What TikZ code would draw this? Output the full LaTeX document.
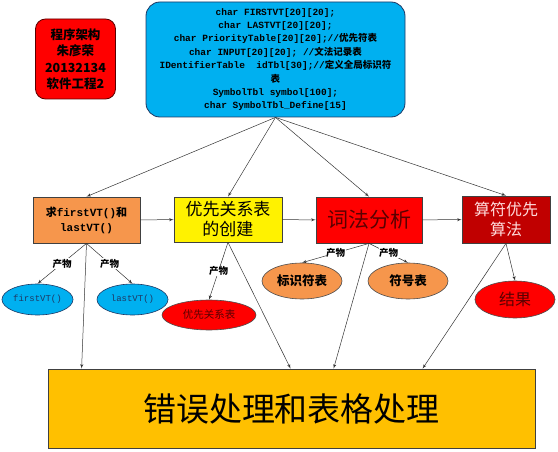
\documentclass[tikz,border=0pt]{standalone}
\usepackage{fontspec}
\setmonofont{Liberation Mono}
\newfontfamily\cjk{Noto Sans CJK SC}
\usetikzlibrary{arrows,shapes.geometric}
\usepackage{xcolor}
\definecolor{codeblue}{RGB}{0,176,240}
\definecolor{navy}{RGB}{31,56,100}
\definecolor{boxorange}{RGB}{246,150,76}
\definecolor{errgold}{RGB}{255,192,0}
\definecolor{deepred}{RGB}{192,0,0}
\definecolor{maroon}{RGB}{90,0,0}
\definecolor{palepink}{RGB}{255,220,220}
\newcommand\zh[1]{{\cjk #1}}

\begin{document}
\begin{tikzpicture}[x=1pt,y=-1pt]
	\tikzset{box/.style = {shape=rectangle,draw=black!75,line width=0.8pt,inner sep=1pt,align=center}}
	\tikzset{blob/.style = {shape=ellipse,draw=black!70,line width=0.6pt,inner sep=0pt,align=center}}
	\tikzset{edge/.style = {->,> = latex',draw=black!80,line width=0.5pt}}
	\tikzset{tag/.style = {fill=white,inner sep=0.5pt,font=\cjk\bfseries\fontsize{9.5}{10}\selectfont}}
	\useasboundingbox (0,0) rectangle (558,452);
	\node[box,rounded corners=10pt,fill=red,draw=maroon,minimum width=80pt,minimum height=80pt,
		font=\cjk\bfseries\fontsize{12.5}{16.5}\selectfont] (info) at (75.5,59) {程序架构\\朱彦荣\\20132134\\软件工程2};
	\node[box,rounded corners=14pt,fill=codeblue,draw=navy,minimum width=259pt,minimum height=115pt,
		font=\ttfamily\bfseries\fontsize{9.5}{13.4}\selectfont] (defs) at (275.5,59.5)
		{char FIRSTVT[20][20];\\ char LASTVT[20][20];\\ char PriorityTable[20][20];//\zh{优先符表}\\
		 char INPUT[20][20];~//\zh{文法记录表}\\ IDentifierTable~~idTbl[30];//\zh{定义全局标识符}\\ \zh{表}\\
		 SymbolTbl symbol[100];\\ char SymbolTbl\_Define[15]};
	\node[box,fill=boxorange,minimum width=107pt,minimum height=46pt,
		font=\ttfamily\bfseries\fontsize{11}{15}\selectfont] (first) at (86.5,220) {\zh{求}firstVT()\zh{和}\\lastVT()};
	\node[box,fill=yellow,minimum width=108pt,minimum height=45pt,
		font=\cjk\fontsize{17}{20}\selectfont] (prio) at (228,219.5) {优先关系表\\的创建};
	\node[box,fill=red,minimum width=106pt,minimum height=46pt,text=maroon,
		font=\cjk\fontsize{21}{24}\selectfont] (lex) at (369,220) {词法分析};
	\node[box,fill=deepred,minimum width=88pt,minimum height=47pt,text=palepink,
		font=\cjk\fontsize{16}{20}\selectfont] (opp) at (506,219.5) {算符优先\\算法};
	\node[box,fill=errgold,minimum width=487pt,minimum height=79pt,
		font=\cjk\fontsize{33}{36}\selectfont] (err) at (291.5,408.5) {错误处理和表格处理};
	%products
	\node[blob,fill=codeblue,draw=navy,minimum width=71pt,minimum height=31pt,text=navy,
		font=\ttfamily\fontsize{9}{10}\selectfont] (firstvt) at (37.5,299.5) {firstVT()};
	\node[blob,fill=codeblue,draw=navy,minimum width=71pt,minimum height=31pt,text=navy,
		font=\ttfamily\fontsize{9}{10}\selectfont] (lastvt) at (132.5,299.5) {lastVT()};
	\node[blob,fill=red,minimum width=94pt,minimum height=30pt,text=maroon,
		font=\cjk\fontsize{10.5}{11}\selectfont] (priotbl) at (209,315) {优先关系表};
	\node[blob,fill=boxorange,minimum width=80pt,minimum height=36pt,
		font=\cjk\bfseries\fontsize{12.5}{13}\selectfont] (idtbl) at (302,281) {标识符表};
	\node[blob,fill=boxorange,minimum width=80pt,minimum height=36pt,
		font=\cjk\bfseries\fontsize{12.5}{13}\selectfont] (symtbl) at (408,281) {符号表};
	\node[blob,fill=red,minimum width=80pt,minimum height=37pt,text=maroon,
		font=\cjk\fontsize{16}{17}\selectfont] (result) at (515,299.5) {结果};
	%edges
	\draw[edge] (defs.south) to (first.north);
	\draw[edge] (defs.south) to (prio.north);
	\draw[edge] (defs.south) to (lex.north);
	\draw[edge] (defs.south) to (opp.north);
	\draw[edge] (first) to (prio);
	\draw[edge] (prio) to (lex);
	\draw[edge] (lex) to (opp);
	\draw[edge] (first.south) to node[tag] {产物} (firstvt.north);
	\draw[edge] (first.south) to node[tag] {产物} (lastvt.north);
	\draw[edge] (prio.south) to node[tag] {产物} (priotbl.north);
	\draw[edge] (lex.south) to node[tag] {产物} (idtbl.north);
	\draw[edge] (lex.south) to node[tag] {产物} (symtbl.north);
	\draw[edge] (opp.south) to (result.north);
	\draw[edge] (first.south) to ([xshift=34pt]err.north west);
	\draw[edge] (prio.south) to ([xshift=243pt]err.north west);
	\draw[edge] (lex.south) to ([xshift=286pt]err.north west);
	\draw[edge] (opp.south) to ([xshift=375pt]err.north west);
\end{tikzpicture}
\end{document}
